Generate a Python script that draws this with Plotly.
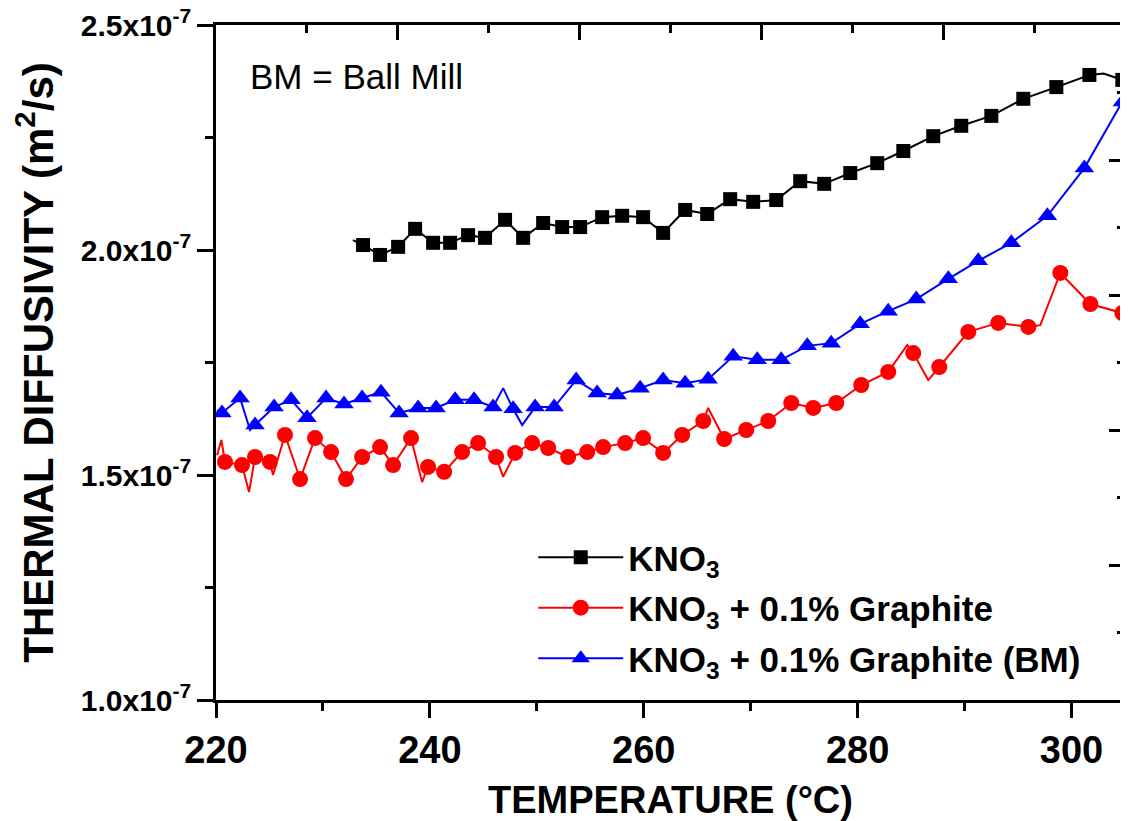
import plotly.graph_objects as go

# ---------------- data (thermal diffusivity in units of 1e-7 m^2/s) ----------------
# KNO3 (black squares)
kno3_T = [233.75, 235.34, 237.03, 238.62, 240.30, 241.89, 243.57, 245.16, 247.03, 248.72,
          250.59, 252.37, 254.05, 256.11, 257.98, 259.94, 261.81, 263.87, 265.93, 268.08,
          270.23, 272.39, 274.63, 276.87, 279.31, 281.83, 284.27, 287.07, 289.69, 292.50,
          295.49, 298.58, 301.67, 304.75]
kno3_D = [2.011, 1.989, 2.007, 2.047, 2.016, 2.016, 2.033, 2.027, 2.067, 2.027,
          2.060, 2.051, 2.051, 2.073, 2.076, 2.073, 2.038, 2.089, 2.080, 2.113,
          2.107, 2.111, 2.153, 2.147, 2.171, 2.193, 2.220, 2.253, 2.276, 2.298,
          2.336, 2.362, 2.389, 2.378]
# extra points of the measured curve between markers
kno3_line_T = [232.8, 303.0, 305.0]
kno3_line_D = [2.022, 2.392, 2.384]

# KNO3 + 0.1% Graphite (red circles)
gr_T = [220.84, 222.43, 223.65, 225.05, 226.45, 227.86, 229.26, 230.76, 232.16, 233.66,
        235.34, 236.56, 238.24, 239.83, 241.33, 243.01, 244.51, 246.19, 247.97, 249.56,
        251.06, 252.93, 254.71, 256.20, 258.26, 259.94, 261.81, 263.59, 265.56, 267.52,
        269.58, 271.64, 273.79, 275.85, 278.00, 280.34, 282.86, 285.20, 287.63, 290.35,
        293.15, 295.96, 298.95, 301.76, 304.75]
gr_D = [1.529, 1.522, 1.540, 1.529, 1.589, 1.491, 1.582, 1.551, 1.491, 1.540,
        1.562, 1.522, 1.582, 1.518, 1.507, 1.551, 1.571, 1.540, 1.549, 1.571,
        1.560, 1.540, 1.551, 1.562, 1.571, 1.582, 1.549, 1.589, 1.620, 1.580,
        1.600, 1.620, 1.660, 1.649, 1.660, 1.700, 1.729, 1.771, 1.740, 1.818,
        1.838, 1.829, 1.949, 1.880, 1.860]
gr_line_T = [220.10, 220.50, 223.09, 225.33, 239.27, 246.85, 266.02, 284.64, 286.60, 297.08, 305.0]
gr_line_D = [1.544, 1.578, 1.462, 1.500, 1.484, 1.496, 1.649, 1.789, 1.711, 1.833, 1.867]

# KNO3 + 0.1% Graphite (BM) (blue triangles)
bm_T = [220.56, 222.25, 223.65, 225.43, 227.02, 228.51, 230.29, 231.97, 233.66, 235.43,
        237.12, 238.90, 240.58, 242.36, 244.13, 245.91, 247.78, 249.84, 251.62, 253.68,
        255.64, 257.51, 259.66, 261.81, 263.87, 266.02, 268.36, 270.61, 272.85, 275.29,
        277.53, 280.24, 282.86, 285.48, 288.48, 291.28, 294.37, 297.74, 301.20, 304.75]
bm_D = [1.638, 1.671, 1.611, 1.651, 1.667, 1.627, 1.671, 1.658, 1.671, 1.684,
        1.638, 1.649, 1.649, 1.667, 1.667, 1.651, 1.647, 1.651, 1.651, 1.711,
        1.682, 1.678, 1.693, 1.711, 1.704, 1.713, 1.764, 1.756, 1.756, 1.787,
        1.793, 1.836, 1.864, 1.891, 1.936, 1.976, 2.016, 2.076, 2.182, 2.329]
bm_line_T = [220.10, 223.18, 246.85, 248.63, 305.0]
bm_line_D = [1.644, 1.600, 1.693, 1.611, 2.340]

names = ["KNO<sub>3</sub>", "KNO<sub>3</sub> + 0.1% Graphite", "KNO<sub>3</sub> + 0.1% Graphite (BM)"]
colors = ["#000000", "#ff0000", "#0000ff"]
symbols = ["square", "circle", "triangle-up"]
msizes = [14, 16, 17]

y_ticks = [1.0, 1.5, 2.0, 2.5]
y_ticktext = ["1.0x10<sup>-7</sup>", "1.5x10<sup>-7</sup>", "2.0x10<sup>-7</sup>", "2.5x10<sup>-7</sup>"]
x_ticks = [220, 240, 260, 280, 300]

series = [
    (kno3_T, kno3_D, kno3_line_T, kno3_line_D),
    (gr_T, gr_D, gr_line_T, gr_line_D),
    (bm_T, bm_D, bm_line_T, bm_line_D),
]

FONT = "Liberation Sans, Arial, sans-serif"

fig = go.Figure()
for i, (mT, mD, lT, lD) in enumerate(series):
    pts = sorted(list(zip(mT, mD)) + list(zip(lT, lD)))
    fig.add_trace(go.Scatter(
        x=[p[0] for p in pts], y=[p[1] for p in pts], mode="lines",
        line=dict(color=colors[i], width=2),
        showlegend=False, legendgroup=str(i), hoverinfo="skip"))
    fig.add_trace(go.Scatter(
        x=mT, y=mD, mode="markers",
        marker=dict(symbol=symbols[i], size=msizes[i], color=colors[i], line=dict(width=0)),
        showlegend=False, legendgroup=str(i)))
for i in range(3):
    fig.add_trace(go.Scatter(
        x=[None], y=[None], mode="lines+markers", name=names[i],
        line=dict(color=colors[i], width=2),
        marker=dict(symbol=symbols[i], size=msizes[i], color=colors[i]),
        legendgroup=str(i)))

# invisible traces hosting the tick-only axes (top, right)
fig.add_trace(go.Scatter(x=[None], y=[None], xaxis="x2", yaxis="y", showlegend=False))
fig.add_trace(go.Scatter(x=[None], y=[None], xaxis="x", yaxis="y2", showlegend=False))

fig.add_annotation(text="BM = Ball Mill", xref="paper", yref="paper", x=0.035, y=0.923,
                   xanchor="left", yanchor="middle", showarrow=False,
                   font=dict(family=FONT, size=35, color="black"))

tick_only = dict(showticklabels=False, tickwidth=2.5, tickcolor="black", showline=False,
                 showgrid=False, zeroline=False, automargin=False, type="linear")

# page body adds an 8px offset, so the figure is 8px smaller than the window
fig.update_layout(
    width=1120, height=813,
    margin=dict(l=208, r=3, t=17, b=121, autoexpand=False),
    paper_bgcolor="white", plot_bgcolor="rgba(0,0,0,0)",
    showlegend=True,
    legend=dict(x=0.349, y=0.255, xanchor="left", yanchor="top",
                bgcolor="rgba(0,0,0,0)", tracegroupgap=2,
                font=dict(family=FONT, size=35, color="black", weight="bold"),
                itemwidth=85),
    xaxis=dict(range=[220, 305], tickvals=x_ticks, ticks="outside", ticklen=15, tickwidth=2.5,
               tickcolor="black", showline=True, mirror=True, linewidth=2.5, linecolor="black",
               showgrid=False, zeroline=False, automargin=False,
               ticklabeloverflow="allow",
               minor=dict(dtick=10, tick0=220, ticks="outside", ticklen=8, tickwidth=2.5, tickcolor="black"),
               tickfont=dict(family=FONT, size=38, color="black", weight="bold"),
               title=dict(text="TEMPERATURE (°C)", standoff=30,
                          font=dict(family=FONT, size=38, color="black", weight="bold"))),
    yaxis=dict(range=[1.0, 2.5], tickvals=y_ticks, ticktext=y_ticktext, ticks="outside",
               ticklen=16, tickwidth=2.5, tickcolor="black", showline=True, mirror=True, linewidth=2.5,
               linecolor="black", showgrid=False, zeroline=False, automargin=False,
               ticklabeloverflow="allow",
               minor=dict(dtick=0.25, tick0=1.0, ticks="outside", ticklen=8, tickwidth=2.5, tickcolor="black"),
               tickfont=dict(family=FONT, size=30, color="black", weight="bold"),
               title=dict(text="THERMAL DIFFUSIVITY (m<sup>2</sup>/s)", standoff=18,
                          font=dict(family=FONT, size=42, color="black", weight="bold"))),
    # top tick axis: its own (non-overlaying) x axis sharing the plot domain
    xaxis2=dict(domain=[0, 1], side="top", anchor="y", range=[0, 10],
                tickvals=[0, 2, 4, 6, 8, 10], ticks="inside", ticklen=15,
                minor=dict(dtick=1, tick0=0, ticks="inside", ticklen=8, tickwidth=2.5, tickcolor="black"),
                **tick_only),
    yaxis2=dict(overlaying="y", side="right", anchor="x", range=[0, 10], tickvals=[0, 2, 4, 6, 8, 10],
                ticks="inside", ticklen=16,
                minor=dict(dtick=1, tick0=0, ticks="inside", ticklen=8, tickwidth=2.5, tickcolor="black"),
                **tick_only),
)

fig.write_html("out.html")
